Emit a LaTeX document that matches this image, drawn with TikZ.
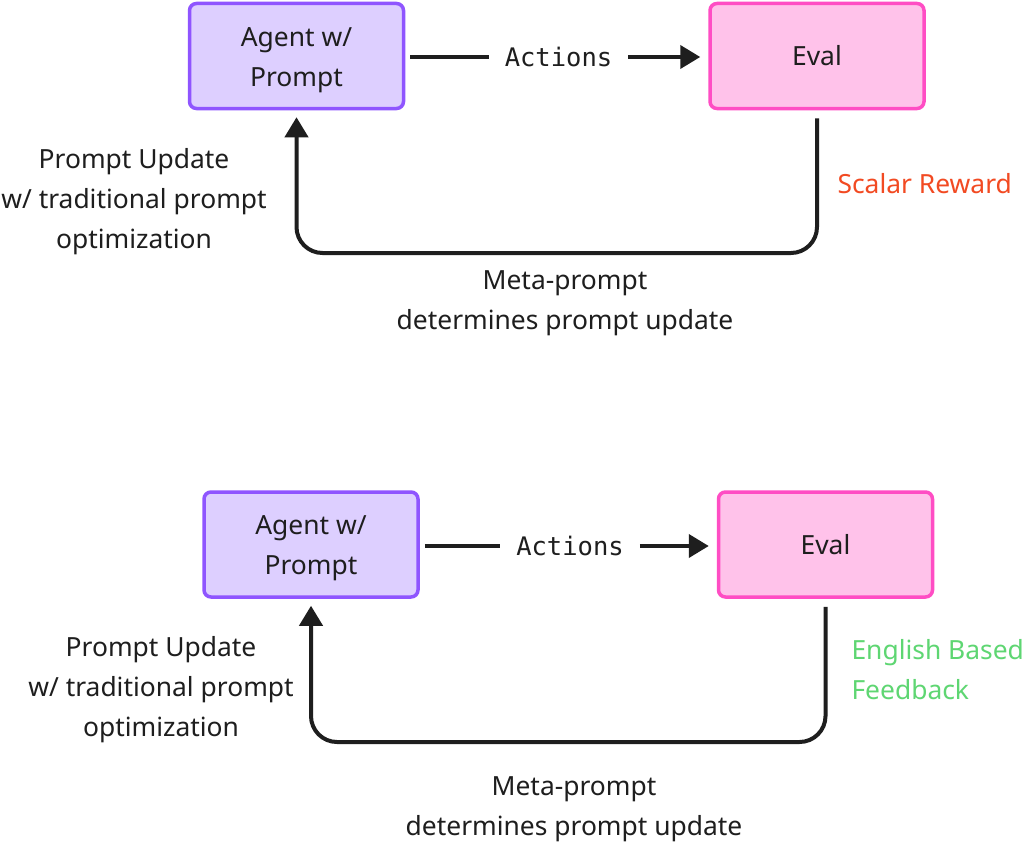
\documentclass[tikz,border=0pt]{standalone}
\usepackage{fontspec}
\setmainfont{Noto Sans}
\newfontfamily\monofont{DejaVu Sans Mono}
\usetikzlibrary{arrows.meta}
\definecolor{agentfill}{HTML}{DDCFFF}
\definecolor{agentdraw}{HTML}{8F55FF}
\definecolor{evalfill}{HTML}{FFC2EA}
\definecolor{evaldraw}{HTML}{FF4DC4}
\definecolor{ink}{HTML}{1E1E1E}
\definecolor{redtxt}{HTML}{F24A22}
\definecolor{greentxt}{HTML}{5ED672}
\newcommand{\agenttext}{\parbox{200pt}{\vspace*{8pt}\centering Agent w/\\Prompt}}
\tikzset{
  base/.style={font=\fontsize{26.4}{40}\selectfont, text=ink},
  agentbox/.style={base, draw=agentdraw, fill=agentfill, line width=3.5pt, rounded corners=7pt, minimum width=214pt, minimum height=105pt, align=center, inner sep=0pt},
  evalbox/.style={base, draw=evaldraw, fill=evalfill, line width=3.5pt, rounded corners=7pt, minimum width=214pt, minimum height=105pt, align=center, inner sep=0pt},
  acts/.style={font=\monofont\fontsize{25.5}{30}\selectfont, text=ink, inner xsep=16pt},
  conn/.style={draw=ink, line width=4pt},
  tip/.style={-{Triangle[length=20pt,width=23pt]}},
  lbl/.style={base, align=center},
}
\begin{document}
\begin{tikzpicture}[x=1pt,y=-1pt]
\useasboundingbox[fill=white] (0,0) rectangle (1024,843);
% ---------- top ----------
\node[agentbox] (a1) at (296.5,56) {\agenttext};
\node[evalbox] (e1) at (817,56) {Eval};
\node[acts] (act1) at (558.5,57) {Actions};
\draw[conn] ([xshift=5pt]a1.east |- act1.west) -- (act1.west);
\draw[conn,tip,shorten >=8pt] (act1.east) -- (e1.west |- act1.east);
\draw[conn,tip,rounded corners=26pt,shorten <=8pt,shorten >=7pt] (e1.south) -- (e1.south |- 0,253) -- (a1.south |- 0,253) -- (a1.south);
\node[lbl] (p1) at (134,202) {Prompt Update\\w/ traditional prompt\\optimization};
\node[lbl, text=redtxt, anchor=west] (s1) at (834,184) {Scalar Reward};
\node[lbl] (m1) at (565,303) {Meta-prompt\\determines prompt update};
% ---------- bottom ----------
\node[agentbox] (a2) at (311,544.5) {\agenttext};
\node[evalbox] (e2) at (825.5,544.5) {Eval};
\node[acts] (act2) at (570,546) {Actions};
\draw[conn] ([xshift=5pt]a2.east |- act2.west) -- (act2.west);
\draw[conn,tip,shorten >=8pt] (act2.east) -- (e2.west |- act2.east);
\draw[conn,tip,rounded corners=26pt,shorten <=8pt,shorten >=7pt] (e2.south) -- (e2.south |- 0,742) -- (a2.south |- 0,742) -- (a2.south);
\node[lbl] (p2) at (161,690) {Prompt Update\\w/ traditional prompt\\optimization};
\node[lbl, text=greentxt, align=left, anchor=west] (f2) at (848,670) {English Based\\Feedback};
\node[lbl] (m2) at (574,809) {Meta-prompt\\determines prompt update};
\end{tikzpicture}
\end{document}
